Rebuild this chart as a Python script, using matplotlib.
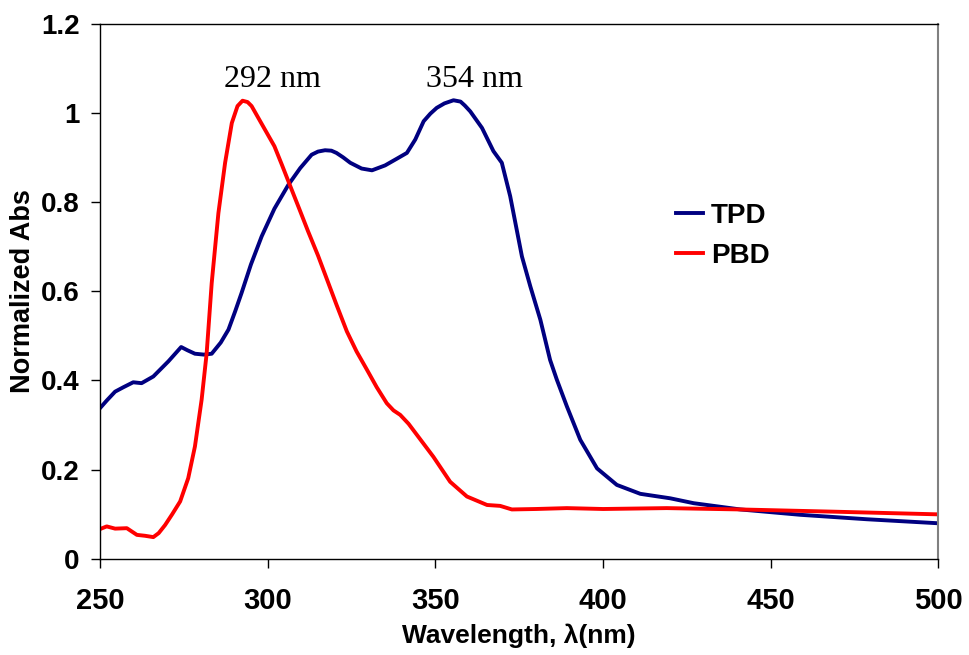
"""Normalized absorption spectra of TPD and PBD."""

import matplotlib

matplotlib.use("Agg")
import matplotlib.pyplot as plt

# TPD absorption
tpd_nm = [250, 252, 254.5, 257, 259.9, 262.4, 265.9, 270.4, 274.2, 276, 278.3, 281,
          283.3, 286, 288.3, 290.3, 292.2, 295, 298.2, 302, 306.2, 309.7, 313.1,
          315, 317.1, 319, 320.5, 322.5, 324.6, 328, 331.1, 335, 338.5, 341.5,
          344, 346.5, 348.5, 350.4, 352.7, 355.4, 357.5, 358.8, 360.4, 363.9,
          367.3, 369.8, 372.3, 375.8, 378.3, 381.3, 384.2, 386.2, 389.2, 393.2,
          398.2, 404.1, 411.1, 420, 427, 440.9, 458.8, 478.7, 500]
tpd_abs = [0.338, 0.355, 0.375, 0.385, 0.396, 0.394, 0.409, 0.443, 0.475, 0.468,
           0.460, 0.458, 0.460, 0.485, 0.514, 0.555, 0.596, 0.660, 0.723, 0.785,
           0.839, 0.876, 0.906, 0.913, 0.916, 0.915, 0.910, 0.900, 0.888, 0.875,
           0.871, 0.882, 0.897, 0.910, 0.940, 0.981, 0.998, 1.011, 1.021, 1.028,
           1.025, 1.016, 1.003, 0.966, 0.914, 0.888, 0.813, 0.678, 0.611, 0.536,
           0.446, 0.402, 0.342, 0.267, 0.203, 0.166, 0.146, 0.136, 0.125, 0.111,
           0.099, 0.089, 0.080]

# PBD absorption
pbd_nm = [250, 252, 254.5, 258, 261, 263.4, 265.9, 267.5, 269.4, 271.5, 273.9,
          276.3, 278.3, 280.3, 281.8, 283.3, 285.3, 287.3, 289.3, 291, 292.5,
          294, 295.2, 299.2, 302, 304.2, 306.5, 309.5, 312, 315, 318, 320.5,
          323.6, 326.5, 329.6, 332.5, 335.5, 337.5, 339.5, 342, 344.5, 349.4,
          354.4, 359.4, 365.4, 369.3, 372.8, 380, 389.2, 400, 419, 440.9,
          468.8, 500]
pbd_abs = [0.067, 0.073, 0.068, 0.069, 0.054, 0.052, 0.049, 0.058, 0.076, 0.100,
           0.129, 0.181, 0.252, 0.357, 0.461, 0.618, 0.775, 0.888, 0.977, 1.015,
           1.027, 1.024, 1.015, 0.962, 0.925, 0.884, 0.840, 0.783, 0.735, 0.680,
           0.620, 0.570, 0.510, 0.465, 0.424, 0.385, 0.349, 0.333, 0.323, 0.303,
           0.278, 0.229, 0.173, 0.140, 0.121, 0.119, 0.111, 0.112, 0.114, 0.112,
           0.114, 0.111, 0.106, 0.100]

peak_labels = ["292 nm", "354 nm"]
peak_pos = [(301.3, 1.075), (361.6, 1.075)]

SANS = "Liberation Sans"
SERIF = "Liberation Serif"


def main() -> None:
    fig = plt.figure(figsize=(9.7, 6.55), dpi=100)
    ax = fig.add_axes([0.1031, 0.1466, 0.8644, 0.8175])

    ax.plot(tpd_nm, tpd_abs, color="#000080", linewidth=2.8, label="TPD")
    ax.plot(pbd_nm, pbd_abs, color="#ff0000", linewidth=2.8, label="PBD")

    for txt, (x, y) in zip(peak_labels, peak_pos):
        ax.text(x, y, txt, ha="center", va="center", fontsize=23, family=SERIF)

    ax.set_xlim(250, 500)
    ax.set_ylim(0, 1.2)
    ax.set_xticks([250, 300, 350, 400, 450, 500])
    ax.set_yticks([0, 0.2, 0.4, 0.6, 0.8, 1.0, 1.2])
    ax.set_yticklabels(["0", "0.2", "0.4", "0.6", "0.8", "1", "1.2"])

    ax.tick_params(axis="y", direction="out", length=6.5, width=1, pad=8)
    ax.tick_params(axis="x", direction="out", length=6.5, width=1, pad=14)
    for lab in ax.get_xticklabels():
        lab.set_fontfamily(SANS)
        lab.set_fontweight("bold")
        lab.set_fontsize(21)
    for lab in ax.get_yticklabels():
        lab.set_fontfamily(SANS)
        lab.set_fontweight("bold")
        lab.set_fontsize(20)

    ax.spines["right"].set_color("#808080")
    ax.spines["right"].set_linewidth(1.5)
    for s in ("left", "bottom", "top"):
        ax.spines[s].set_linewidth(1.0)

    ax.set_xlabel("Wavelength, λ(nm)", fontsize=19, fontweight="bold", family=SANS)
    ax.set_ylabel("Normalized Abs", fontsize=19.5, fontweight="bold", family=SANS)
    ax.xaxis.set_label_coords(0.5, -0.121)
    ax.yaxis.set_label_coords(-0.076, 0.5)

    ax.legend(loc="upper left", bbox_to_anchor=(0.674, 0.686), frameon=False,
              prop={"family": SANS, "weight": "bold", "size": 20},
              handlelength=0.95, handletextpad=0.3, labelspacing=0.52,
              borderaxespad=0.0)

    fig.savefig("out.png")


if __name__ == "__main__":
    main()
